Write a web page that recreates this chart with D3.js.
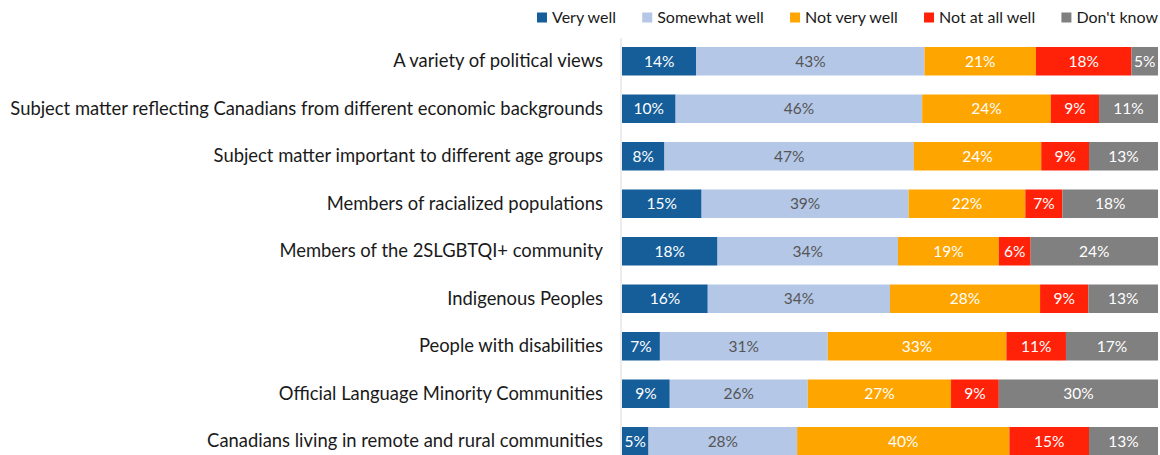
<!DOCTYPE html>
<html>
<head>
<meta charset="utf-8">
<script src="https://cdn.jsdelivr.net/npm/d3@7"></script>
<style>
  html, body { margin: 0; padding: 0; background: #fff; }
  svg { display: block; font-family: Lato, "Open Sans", sans-serif; }
</style>
</head>
<body>
<svg id="chart" width="1160" height="455"></svg>
<script>
// Survey: how well does the content represent each group
const categories = [
  "A variety of political views",
  "Subject matter reflecting Canadians from different economic backgrounds",
  "Subject matter important to different age groups",
  "Members of racialized populations",
  "Members of the 2SLGBTQI+ community",
  "Indigenous Peoples",
  "People with disabilities",
  "Official Language Minority Communities",
  "Canadians living in remote and rural communities"
];

const seriesNames = ["Very well", "Somewhat well", "Not very well", "Not at all well", "Don't know"];

// Percent of respondents, one array per response option (same order as categories)
const veryWell      = [14, 10,  8, 15, 18, 16,  7,  9,  5];
const somewhatWell  = [43, 46, 47, 39, 34, 34, 31, 26, 28];
const notVeryWell   = [21, 24, 24, 22, 19, 28, 33, 27, 40];
const notAtAllWell  = [18,  9,  9,  7,  6,  9, 11,  9, 15];
const dontKnow      = [ 5, 11, 13, 18, 24, 13, 17, 30, 13];

const seriesColors = ["#155E9A", "#B4C7E7", "#FFA500", "#FF2209", "#808080"];
const labelColors  = ["#FFFFFF", "#555555", "#FFFFFF", "#FFFFFF", "#FFFFFF"];

const rows = categories.map((c, i) => ({
  category: c,
  "Very well": veryWell[i],
  "Somewhat well": somewhatWell[i],
  "Not very well": notVeryWell[i],
  "Not at all well": notAtAllWell[i],
  "Don't know": dontKnow[i]
}));

const svg = d3.select("#chart");

// 100% stacked: each row is normalised to its own total
const x = d3.scaleLinear().domain([0, 1]).range([622, 1158]);
const y = d3.scaleBand()
  .domain(categories)
  .range([37.5, 465])
  .paddingInner(0.4)
  .paddingOuter(0.2);

const stacked = d3.stack()
  .keys(seriesNames)
  .offset(d3.stackOffsetExpand)(rows);

const layers = svg.append("g")
  .selectAll("g")
  .data(stacked)
  .join("g")
  .attr("fill", (d, i) => seriesColors[i]);

layers.selectAll("rect")
  .data(d => d)
  .join("rect")
  .attr("x", d => x(d[0]))
  .attr("y", d => y(d.data.category))
  .attr("width", d => x(d[1]) - x(d[0]))
  .attr("height", y.bandwidth());

// Value labels centred in each segment
svg.append("g")
  .selectAll("g")
  .data(stacked)
  .join("g")
  .attr("fill", (d, i) => labelColors[i])
  .each(function (layer) {
    d3.select(this)
      .selectAll("text")
      .data(layer)
      .join("text")
      .attr("x", d => (x(d[0]) + x(d[1])) / 2)
      .attr("y", d => y(d.data.category) + y.bandwidth() / 2)
      .attr("dy", "0.36em")
      .attr("text-anchor", "middle")
      .attr("font-size", "15.5px")
      .text(d => d.data[layer.key] + "%");
  });

// Category axis
const yAxis = svg.append("g")
  .attr("transform", `translate(${x(0) - 1},0)`)
  .call(d3.axisLeft(y).tickSize(0).tickPadding(18));
yAxis.select(".domain")
  .attr("stroke", "#D9D9D9")
  .attr("d", "M0,38V455");
yAxis.selectAll("text")
  .attr("font-size", "18.4px")
  .attr("font-family", "Lato, 'Open Sans', sans-serif")
  .attr("fill", "#1a1a1a");

// Legend: items laid out left to right between legendLeft and legendRight
const legendLeft = 537, legendRight = 1158, swatch = 10, swatchGap = 5;
const legend = svg.append("g")
  .selectAll("g")
  .data(seriesNames)
  .join("g");
legend.append("rect")
  .attr("y", 12.5)
  .attr("width", swatch)
  .attr("height", swatch)
  .attr("fill", (d, i) => seriesColors[i]);
legend.append("text")
  .attr("x", swatch + swatchGap)
  .attr("y", 17.5)
  .attr("dy", "0.36em")
  .attr("font-size", "16px")
  .attr("fill", "#1a1a1a")
  .text(d => d);

const itemWidths = [];
legend.each(function () {
  itemWidths.push(swatch + swatchGap + this.querySelector("text").getComputedTextLength());
});
const gap = (legendRight - legendLeft - d3.sum(itemWidths)) / (seriesNames.length - 1);
let cursor = legendLeft;
legend.attr("transform", (d, i) => {
  const t = `translate(${cursor},0)`;
  cursor += itemWidths[i] + gap;
  return t;
});
</script>
</body>
</html>
